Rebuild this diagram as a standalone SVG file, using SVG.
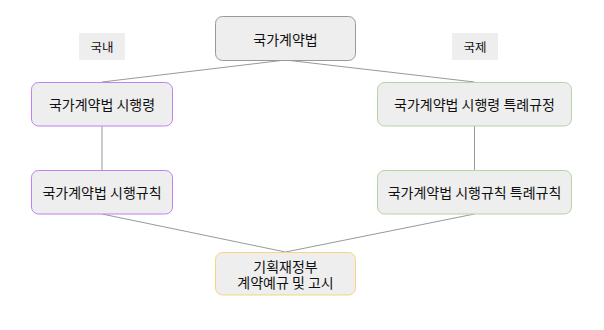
<svg xmlns="http://www.w3.org/2000/svg" width="604" height="330" viewBox="0 0 604 330">
<style>
.n{fill:#eeeeee;stroke-width:1}
.t{font-family:"Noto Sans CJK KR","Noto Sans",sans-serif;font-size:14px;fill:#111;text-anchor:middle;dominant-baseline:central}
.c{stroke:#999999;stroke-width:1;fill:none}
</style>
<rect width="604" height="330" fill="#ffffff"/>
<g id="connectors">
<line class="c" x1="285.5" y1="60" x2="102" y2="82"/>
<line class="c" x1="285.5" y1="60" x2="474.5" y2="82"/>
<line class="c" x1="102" y1="126" x2="102" y2="170"/>
<line class="c" x1="474.5" y1="126" x2="474.5" y2="170"/>
<line class="c" x1="102" y1="214" x2="285.5" y2="252"/>
<line class="c" x1="474.5" y1="214" x2="285.5" y2="252"/>
</g>
<g id="label-domestic">
<rect x="79" y="33" width="46" height="27" fill="#eeeeee"/>
<text class="t" x="102" y="46.5" style="font-size:12.5px">국내</text>
</g>
<g id="label-intl">
<rect x="452" y="33" width="46" height="27" fill="#eeeeee"/>
<text class="t" x="475" y="46.5" style="font-size:12.5px">국제</text>
</g>
<g id="node-law">
<rect class="n" x="215.5" y="16.5" width="140" height="44" rx="7" stroke="#999999"/>
<text class="t" x="285.5" y="38.5">국가계약법</text>
</g>
<g id="node-decree">
<rect class="n" x="31.5" y="82.5" width="141" height="43.5" rx="7" stroke="#c080f8"/>
<text class="t" x="102" y="104">국가계약법 시행령</text>
</g>
<g id="node-decree-special">
<rect class="n" x="377.5" y="82.5" width="194" height="43.5" rx="7" stroke="#b5d5a5"/>
<text class="t" x="474.5" y="104">국가계약법 시행령 특례규정</text>
</g>
<g id="node-rule">
<rect class="n" x="31.5" y="170.5" width="141" height="43.5" rx="7" stroke="#c080f8"/>
<text class="t" x="102" y="192">국가계약법 시행규칙</text>
</g>
<g id="node-rule-special">
<rect class="n" x="377.5" y="170.5" width="194" height="43.5" rx="7" stroke="#b5d5a5"/>
<text class="t" x="474.5" y="192">국가계약법 시행규칙 특례규칙</text>
</g>
<g id="node-moef">
<rect class="n" x="215.5" y="252.5" width="140" height="42.5" rx="7" stroke="#f5d580"/>
<text class="t"><tspan x="285.5" y="265.5">기획재정부</tspan><tspan x="285.5" y="281.5">계약예규 및 고시</tspan></text>
</g>
</svg>
